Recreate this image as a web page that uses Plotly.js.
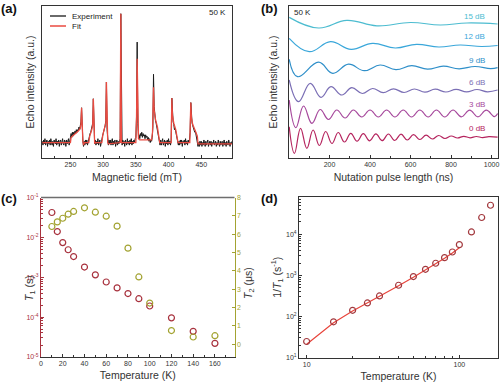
<!DOCTYPE html>
<html><head><meta charset="utf-8">
<script src="https://cdn.plot.ly/plotly-3.0.1.min.js"></script>
<style>html,body{margin:0;padding:0;background:#fff;}#chart{width:500px;height:382px;}</style>
</head><body><div id="chart"></div>
<script>
// ---------- (a) EPR spectrum, 50 K ----------
// experiment sampled every 1 mT starting at 207 mT
const expStartField = 207;
const expSignal = [
 0.01,-0.02,0.02,-0.01,0.03,-0.02,0.00,0.02,-0.03,0.01,
 -0.01,0.02,-0.02,0.03,0.00,-0.02,0.01,-0.03,0.02,0.00,
 -0.01,0.03,-0.02,0.01,-0.01,0.02,-0.03,0.01,0.02,-0.02,
 0.00,0.03,-0.01,-0.02,0.02,0.01,-0.03,0.02,-0.01,0.01,
 0.03,-0.02,0.02,0.04,0.07,0.04,0.08,0.05,0.08,0.06,
 0.09,0.07,0.10,0.08,0.10,0.09,0.12,0.10,0.13,0.16,
 0.27,0.08,0.01,-0.03,0.01,-0.02,0.02,-0.01,0.02,-0.02,
 0.01,0.03,0.05,0.07,0.08,0.10,0.12,0.15,0.34,0.08,
 -0.01,0.02,-0.02,0.01,-0.01,0.03,-0.02,0.00,0.02,-0.03,
 0.01,0.02,0.05,0.07,0.09,0.10,0.13,0.17,0.47,0.10,
 0.00,-0.02,0.02,-0.01,0.02,-0.02,0.01,0.03,-0.02,0.01,
 -0.01,0.02,-0.03,0.01,0.02,-0.02,0.01,-0.01,0.02,0.03,
 1.00,0.02,-0.02,0.02,-0.01,0.01,-0.03,0.02,0.00,-0.02,
 0.03,-0.01,0.01,-0.02,0.02,-0.01,0.03,-0.02,0.01,-0.01,
 0.02,0.00,0.03,0.04,0.20,0.78,0.15,0.05,0.06,0.03,
 0.07,0.05,0.08,0.04,0.07,0.05,0.06,0.03,0.06,0.04,
 0.05,0.02,0.04,0.01,0.03,0.00,0.02,0.01,0.04,0.12,
 0.53,0.28,0.20,0.17,0.15,0.12,0.11,0.08,0.06,0.01,
 -0.02,0.02,-0.02,0.01,0.03,-0.02,0.00,0.02,-0.03,0.01,
 -0.01,0.02,-0.02,0.03,-0.01,0.01,-0.02,0.02,0.345,0.20,
 0.16,0.14,0.10,0.11,0.08,0.07,0.04,0.00,-0.02,0.01,
 -0.02,0.02,-0.01,0.02,-0.03,0.01,0.00,0.02,-0.02,0.03,
 -0.01,0.01,-0.02,0.02,0.00,0.02,0.08,0.31,0.18,0.15,
 0.13,0.11,0.10,0.08,0.09,0.06,0.05,0.02,-0.03,0.00,
 -0.03,0.01,-0.02,0.01,-0.03,0.00,-0.02,0.02,-0.01,-0.03,
 0.01,-0.02,0.00,0.02,-0.03,-0.01,0.01,-0.02,0.01,-0.03,
 0.00,-0.01,0.02,-0.02,-0.01,0.01,-0.03,0.00,-0.02,0.02,
 -0.01,-0.03,0.01,-0.02,0.00,0.01,-0.03,-0.01,0.02,-0.02,
 0.00,-0.03,0.01,-0.01,-0.02,0.02,-0.01,-0.03,0.00,-0.01,
 0.01
];
const fitField = [207,250,251,256,262,265,266,267,268,269,270,271.5,278,279.5,282,284,285,286,287,288,
 298,299.5,302,304,305,306,307,308,326,327,328,350,351,352,353,354,356,374,375.5,377,
 378,380,383,385.5,386.5,404,405,406,408,411,413.5,414.5,432.5,434,435,437,441,444,445,497];
const fitSignal = [0,0,0.04,0.06,0.09,0.11,0.14,0.27,0.09,0.01,-0.02,0,0,0.05,0.09,0.13,0.34,0.09,-0.01,0,
 0,0.06,0.10,0.15,0.47,0.11,0,-0.01,0,1.0,0,0,0.18,0.65,0.14,0.03,0.02,0.02,0.08,0.43,
 0.25,0.18,0.12,0.05,0,0,0.345,0.21,0.15,0.10,0.03,0,0,0.31,0.19,0.14,0.09,0.05,-0.01,-0.01];
const legendNames = ['Experiment','Fit'];
const fieldTicks = [250,300,350,400,450];

// ---------- (b) nutation curves (stacked), extrema ----------
const dBLabels = ['0 dB','3 dB','6 dB','9 dB','12 dB','15 dB'];
const nutT0  = [1,27,57,88,119,150,181,212,243,274,305,336,367,398,429,460,491,522,553,584,615,646,677,708,739,770,801,832,863,894,925,956,987,1030];
const nutY0  = [31.3,4.7,29.7,9.7,28,12.5,26.5,14.5,25.5,16,24.7,16.8,24.3,17.2,24.2,17.3,24,17.5,23.8,18,23.3,18.5,22.8,19,22.5,19.5,22,20,21.7,20.2,21.5,20.4,21.4,20.8];
const nutT3  = [1,34,72,113,154,195,236,277,318,359,400,441,482,523,564,605,646,687,728,769,810,851,892,933,974,1015,1030];
const nutY3  = [58,30.3,52,34.7,48.5,38.5,48,40,48,41,48,41,48,41,48,41,48,41,48,41,48,41.2,47.8,41.2,47.8,41.4,44.5];
const nutT6  = [1,47,105,158,207,261,310,362,413,465,516,568,619,671,722,774,825,877,928,980,1030];
const nutY6  = [78,56.3,74.7,60.7,71.3,63,70.3,64.5,69.5,65.3,69.2,65.5,69,65.8,68.8,66,68.6,66.1,68.5,66.2,68];
const nutT9  = [1,42,146,216,294,372,450,528,606,684,762,840,918,996,1030];
const nutY9  = [98.7,81.3,95.8,84.7,93.8,87.3,93,88.3,92.3,88.8,91.8,89.2,91.5,89.4,90.3];
const nutT12 = [1,100,205,307,413,525,630,740,845,950,1030];
const nutY12 = [119.7,106.3,116.3,108.7,114.7,110,113.7,111,113,111.5,112.5];
const nutT15 = [1,146,286,434,600,747,879,1030];
const nutY15 = [140.7,130,137.7,132.2,135.5,133,135,134];
const pulseTicks = [200,400,600,800,1000];

// ---------- (c) relaxation times ----------
const temps = [10,15,20,25,30,40,50,60,70,80,90,100,120,140,160];
const T1 = [0.042,0.014,0.0074,0.0049,0.0033,0.0018,0.00115,0.00076,0.00054,0.00039,0.00029,0.00019,9.6e-5,4.4e-5,2.2e-5];
const T2 = [6.42,6.67,6.87,7.09,7.24,7.44,7.2,6.98,6.44,5.24,3.67,2.25,0.75,0.4,0.47];

// ---------- (d) 1/T1 vs T ----------
const rates = [24.5,74,141,213,315,574,935,1405,1970,2700,3700,5600,11400,25600,51000];
const fitT = [10,15,20,30,40,50,60,70,80,90,100];
const fitRate = [21,70,135,305,560,900,1350,1900,2600,3500,4700];

const logTicksC = [1e-5,1e-4,1e-3,1e-2,1e-1];
const logTextC = ['10<sup>-5</sup>','10<sup>-4</sup>','10<sup>-3</sup>','10<sup>-2</sup>','10<sup>-1</sup>'];
const logTicksD = [10,100,1000,10000];
const logTextD = ['10<sup>1</sup>','10<sup>2</sup>','10<sup>3</sup>','10<sup>4</sup>'];

// ---------- styling ----------
const W = 500, H = 382;
const px = x => x / W, py = y => 1 - y / H;
const FONT = 'Liberation Sans, Arial, Helvetica, sans-serif';
const dark = '#333333';
const cExp = '#1a1a1a', cFit = '#ea4a40';
const nutColors = ['#b5245e','#a6489c','#7b6fb5','#2f8fc9','#3aa7da','#4cbcd0'];
const cT1 = '#a8323e', cT2 = '#a3a332';

const traces = [
 {type:'scatter', mode:'lines', name:legendNames[0], x0:expStartField, dx:1, y:expSignal,
  line:{color:cExp, width:1}, xaxis:'x', yaxis:'y'},
 {type:'scatter', mode:'lines', name:legendNames[1], x:fitField, y:fitSignal,
  line:{color:cFit, width:1.3}, xaxis:'x', yaxis:'y'}
];
const nutT = [nutT0,nutT3,nutT6,nutT9,nutT12,nutT15];
const nutY = [nutY0,nutY3,nutY6,nutY9,nutY12,nutY15];
for (let i = 0; i < 6; i++) {
  traces.push({type:'scatter', mode:'lines', name:dBLabels[i], x:nutT[i], y:nutY[i],
    line:{color:nutColors[i], width:1.2, shape:'spline', smoothing:1.2}, xaxis:'x2', yaxis:'y2'});
}
traces.push({type:'scatter', mode:'markers', name:'T1', x:temps, y:T1,
  marker:{symbol:'circle-open', size:6, color:cT1, line:{width:1.2, color:cT1}}, xaxis:'x3', yaxis:'y3'});
traces.push({type:'scatter', mode:'markers', name:'T2', x:temps, y:T2,
  marker:{symbol:'circle-open', size:6, color:cT2, line:{width:1.2, color:cT2}}, xaxis:'x3', yaxis:'y4'});
traces.push({type:'scatter', mode:'lines', name:'fit 1/T1', x:fitT, y:fitRate,
  line:{color:'#e8453c', width:1.2}, xaxis:'x4', yaxis:'y5'});
traces.push({type:'scatter', mode:'markers', name:'1/T1', x:temps, y:rates,
  marker:{symbol:'circle-open', size:6, color:'#a33a3f', line:{width:1.2, color:'#a33a3f'}}, xaxis:'x4', yaxis:'y5'});

const base = {showline:true, linecolor:dark, linewidth:1, ticks:'inside', ticklen:3, tickwidth:1,
  tickcolor:dark, showgrid:false, zeroline:false, tickfont:{size:7, color:dark, family:FONT}};
const ax = o => Object.assign({}, base, o);
const titleFont = {size:10.5, color:dark, family:FONT};

const layout = {
  width:W, height:H, margin:{l:0,r:0,t:0,b:0},
  paper_bgcolor:'#ffffff', plot_bgcolor:'rgba(0,0,0,0)',
  font:{family:FONT, size:7, color:dark},
  showlegend:false,
  xaxis: ax({domain:[px(42),px(232)], range:[206.5,497], tickmode:'array', tickvals:fieldTicks, mirror:true, anchor:'y',
    minor:{ticks:'inside', ticklen:2, dtick:25, tick0:0, tickcolor:dark},
    title:{text:'Magnetic field (mT)', font:titleFont, standoff:6}}),
  yaxis: ax({domain:[py(158),py(6)], range:[-0.12,1.06], showticklabels:false, ticks:'', mirror:true, anchor:'x',
    title:{text:'Echo intensity (a.u.)', font:titleFont, standoff:4}}),
  xaxis2: ax({domain:[px(289),px(498)], range:[0,1032], tickmode:'array', tickvals:pulseTicks, mirror:true, anchor:'y2',
    minor:{ticks:'inside', ticklen:2, dtick:100, tick0:0, tickcolor:dark},
    title:{text:'Nutation pulse length (ns)', font:titleFont, standoff:6}}),
  yaxis2: ax({domain:[py(158),py(6)], range:[0,152], showticklabels:false, ticks:'', mirror:true, anchor:'x2',
    title:{text:'Echo intensity (a.u.)', font:titleFont, standoff:8}}),
  xaxis3: ax({domain:[px(41),px(234.5)], range:[0,178], dtick:20, tick0:0, anchor:'y3',
    minor:{ticks:'inside', ticklen:2, dtick:10, tickcolor:dark},
    title:{text:'Temperature (K)', font:titleFont, standoff:5}}),
  yaxis3: ax({domain:[py(357),py(197.5)], type:'log', range:[-5,-1], tickmode:'array', tickvals:logTicksC, ticktext:logTextC,
    linecolor:cT1, tickcolor:cT1, tickfont:{size:7, color:cT1, family:FONT}, anchor:'x3',
    minor:{ticks:'inside', ticklen:2, dtick:'D1', tickcolor:cT1}}),
  yaxis4: ax({overlaying:'y3', side:'right', anchor:'x3', range:[-0.69,8], dtick:1, tick0:0,
    linecolor:cT2, tickcolor:cT2, tickfont:{size:7, color:cT2, family:FONT}}),
  xaxis4: ax({domain:[px(299),px(498)], type:'log', range:[0.95,2.253], tickmode:'array', tickvals:[10,100], ticktext:['10','100'],
    mirror:true, anchor:'y5', minor:{ticks:'inside', ticklen:2, dtick:'D1', tickcolor:dark},
    title:{text:'Temperature (K)', font:titleFont, standoff:5}}),
  yaxis5: ax({domain:[py(357.5),py(197)], type:'log', range:[1,4.908], tickmode:'array', tickvals:logTicksD, ticktext:logTextD,
    mirror:true, anchor:'x4', minor:{ticks:'inside', ticklen:2, dtick:'D1', tickcolor:dark},
    title:{text:'1/<i>T</i><sub>1</sub> (s<sup>-1</sup>)', font:titleFont, standoff:2}}),
  shapes:[
    {type:'line', xref:'x3 domain', yref:'y3 domain', x0:0, x1:1, y0:1, y1:1, line:{color:'#6e6e6e', width:1.5}},
    // legend keys for panel (a)
    {type:'line', xref:'paper', yref:'paper', x0:px(50), x1:px(66), y0:py(16), y1:py(16), line:{color:cExp, width:1.3}},
    {type:'line', xref:'paper', yref:'paper', x0:px(50), x1:px(66), y0:py(26), y1:py(26), line:{color:cFit, width:1.5}}
  ],
  annotations:[]
};

const A = layout.annotations;
A.push({text:legendNames[0], x:px(69.5), y:py(16), xref:'paper', yref:'paper', showarrow:false, xanchor:'left', yanchor:'middle', font:{size:8, color:'#222'}});
A.push({text:legendNames[1], x:px(69.5), y:py(26), xref:'paper', yref:'paper', showarrow:false, xanchor:'left', yanchor:'middle', font:{size:8, color:'#222'}});
const lab = (t, x, y) => A.push({text:'<b>'+t+'</b>', x:px(x), y:py(y), xref:'paper', yref:'paper', showarrow:false,
  xanchor:'center', yanchor:'middle', font:{size:13, color:'#111', family:FONT}});
lab('(a)', 8.5, 8.7); lab('(b)', 269, 8.7); lab('(c)', 8.5, 198.5); lab('(d)', 269, 198.5);
A.push({text:'50 K', x:px(228), y:py(12.7), xref:'paper', yref:'paper', showarrow:false, xanchor:'right', yanchor:'middle', font:{size:8, color:'#222'}});
A.push({text:'50 K', x:px(292), y:py(12.7), xref:'paper', yref:'paper', showarrow:false, xanchor:'left', yanchor:'middle', font:{size:8, color:'#222'}});
const dBy = [128.3,105,82.7,60.7,36.7,16];
for (let i = 0; i < 6; i++) {
  A.push({text:dBLabels[i], x:px(487), y:py(dBy[i]), xref:'paper', yref:'paper', showarrow:false,
    xanchor:'right', yanchor:'middle', font:{size:8, color:nutColors[i]}});
}
A.push({text:'<i>T</i><sub>1</sub> (s)', x:px(30), y:py(288), xref:'paper', yref:'paper', showarrow:false, textangle:-90,
  xanchor:'center', yanchor:'middle', font:titleFont});
A.push({text:'<i>T</i><sub>2</sub> (μs)', x:px(249), y:py(283), xref:'paper', yref:'paper', showarrow:false, textangle:-90,
  xanchor:'center', yanchor:'middle', font:titleFont});

Plotly.newPlot('chart', traces, layout, {displayModeBar:false, staticPlot:true});
</script></body></html>
